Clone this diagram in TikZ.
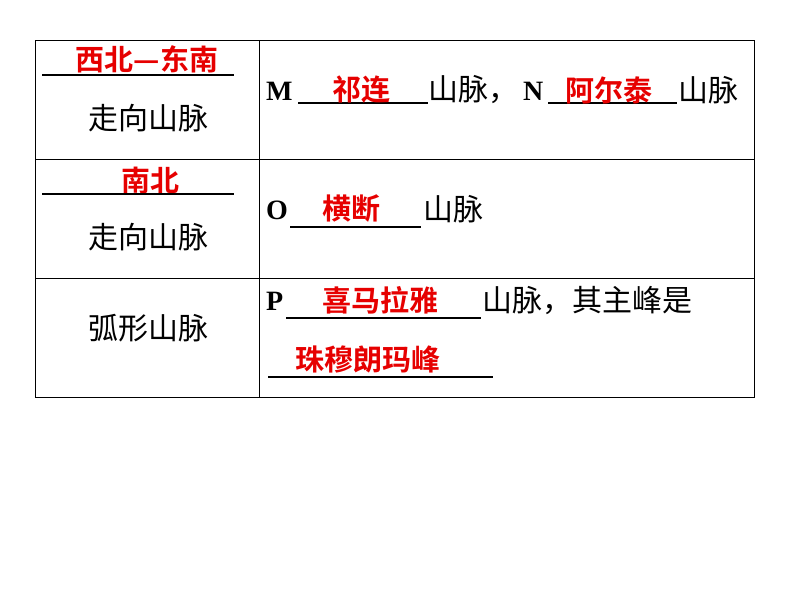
\documentclass[tikz,border=0pt]{standalone}
\usepackage{fontspec}
\setmainfont{Liberation Serif}
\newfontfamily\cjk{Noto Sans CJK SC}
\newfontfamily\cjkb{Noto Sans CJK SC Bold}
\definecolor{ansred}{RGB}{230,0,0}
\begin{document}
\begin{tikzpicture}[x=1pt,y=-1pt,
  txt/.style={font=\cjk\fontsize{30}{30}\selectfont, inner sep=0pt},
  ans/.style={font=\cjkb\fontsize{29}{29}\selectfont, inner sep=0pt, text=ansred},
  lat/.style={font=\bfseries\fontsize{28}{28}\selectfont, inner sep=0pt},
  uline/.style={line width=1.4pt}]
\useasboundingbox (0,0) rectangle (794,595);
\draw[line width=0.8pt] (35,40) rectangle (754,397);
\draw[line width=0.8pt] (259,40) -- (259,397);
\draw[line width=0.8pt] (35,159) -- (754,159) (35,278) -- (754,278);
% row 1
\node[ans] (a1) at (147,59) {西北—东南};
\draw[uline] (42,75) -- (234,75);
\node[txt] (l1) at (148,118) {走向山脉};
\node[lat,anchor=west] (m) at (266,91) {M};
\draw[uline] (298,103) -- (428,103);
\node[ans] (a2) at (361,90) {祁连};
\node[txt,anchor=west] (t1) at (428,90) {山脉，};
\node[lat,anchor=west] (n) at (523,91) {N};
\draw[uline] (548,103) -- (677,103);
\node[ans] (a3) at (609,90) {阿尔泰};
\node[txt,anchor=west] (t2) at (678,90) {山脉};
% row 2
\node[ans] (a4) at (150,181) {南北};
\draw[uline] (42,194) -- (234,194);
\node[txt] (l2) at (148,237) {走向山脉};
\node[lat,anchor=west] (o) at (266,210) {O};
\draw[uline] (290,227) -- (421,227);
\node[ans] (a5) at (351,209) {横断};
\node[txt,anchor=west] (t3) at (423,209) {山脉};
% row 3
\node[txt] (l3) at (148,328) {弧形山脉};
\node[lat,anchor=west] (p) at (266,301) {P};
\draw[uline] (286,318) -- (481,318);
\node[ans] (a6) at (380,300) {喜马拉雅};
\node[txt,anchor=west] (t4) at (482,300) {山脉，其主峰是};
\draw[uline] (268,377) -- (493,377);
\node[ans] (a7) at (368,359) {珠穆朗玛峰};
\end{tikzpicture}
\end{document}
